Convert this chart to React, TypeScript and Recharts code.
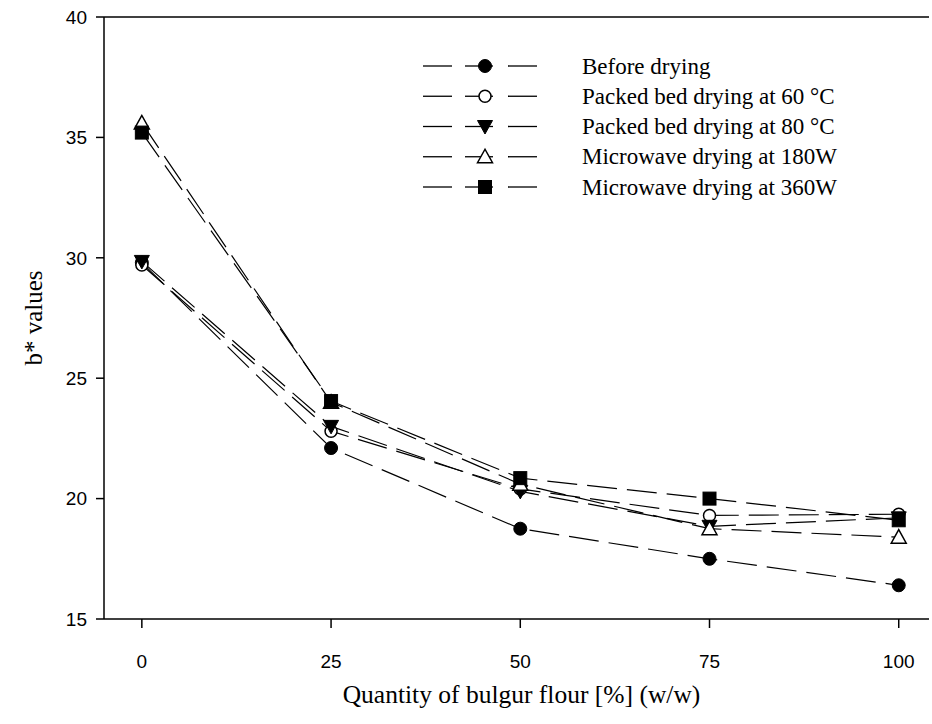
import React from 'react';
import { LineChart, Line, XAxis, YAxis, ReferenceLine, Label } from 'recharts';

const xValues = [0, 25, 50, 75, 100];
const beforeDrying = [29.8, 22.1, 18.75, 17.5, 16.4];
const packed60 = [29.7, 22.8, 20.4, 19.3, 19.35];
const packed80 = [29.85, 23.0, 20.3, 18.85, 19.2];
const microwave180 = [35.6, 24.0, 20.6, 18.75, 18.4];
const microwave360 = [35.2, 24.05, 20.85, 20.0, 19.1];

const seriesNames = [
  'Before drying',
  'Packed bed drying at 60 °C',
  'Packed bed drying at 80 °C',
  'Microwave drying at 180W',
  'Microwave drying at 360W',
];
const xTicks = [0, 25, 50, 75, 100];
const yTicks = [15, 20, 25, 30, 35, 40];

type Kind = 'circleFilled' | 'circleOpen' | 'triDownFilled' | 'triUpOpen' | 'squareFilled';
const kinds: Kind[] = ['circleFilled', 'circleOpen', 'triDownFilled', 'triUpOpen', 'squareFilled'];
const keys = ['before', 'p60', 'p80', 'mw180', 'mw360'];
const seriesValues = [beforeDrying, packed60, packed80, microwave180, microwave360];

const data = xValues.map((x, i) => {
  const row: any = { x };
  keys.forEach((k, j) => (row[k] = seriesValues[j][i]));
  return row;
});

function Marker({ kind, cx, cy }: { kind: Kind; cx: number; cy: number }) {
  if (cx == null || cy == null) return null;
  switch (kind) {
    case 'circleFilled':
      return <circle cx={cx} cy={cy} r={6.5} fill="#000" stroke="#000" />;
    case 'circleOpen':
      return <circle cx={cx} cy={cy} r={6} fill="#fff" stroke="#000" strokeWidth={1.5} />;
    case 'triDownFilled':
      return (
        <polygon
          points={`${cx - 7.5},${cy - 6} ${cx + 7.5},${cy - 6} ${cx},${cy + 7.5}`}
          fill="#000"
          stroke="#000"
        />
      );
    case 'triUpOpen':
      return (
        <polygon
          points={`${cx},${cy - 7.5} ${cx - 7.5},${cy + 6} ${cx + 7.5},${cy + 6}`}
          fill="#fff"
          stroke="#000"
          strokeWidth={1.5}
        />
      );
    case 'squareFilled':
      return <rect x={cx - 6.5} y={cy - 6.5} width={13} height={13} fill="#000" stroke="#000" />;
  }
  return null;
}

const serif = '"Liberation Serif", "Times New Roman", serif';
const sans = '"Liberation Sans", Arial, sans-serif';

function LegendOverlay() {
  return (
    <svg
      width={480}
      height={170}
      style={{ position: 'absolute', left: 415, top: 45, pointerEvents: 'none' }}
    >
      {seriesNames.map((name, i) => {
        const y = 21 + i * 30.25;
        return (
          <g key={name}>
            <line x1={8} x2={37} y1={y} y2={y} stroke="#000" strokeWidth={1.3} />
            <line x1={50} x2={78} y1={y} y2={y} stroke="#000" strokeWidth={1.3} />
            <line x1={93} x2={122} y1={y} y2={y} stroke="#000" strokeWidth={1.3} />
            <Marker kind={kinds[i]} cx={70} cy={y} />
            <text x={167} y={y} dominantBaseline="central" fontFamily={serif} fontSize={23} fill="#000">
              {name}
            </text>
          </g>
        );
      })}
    </svg>
  );
}

export default function App() {
  return (
    <div style={{ position: 'absolute', left: 0, top: 0, width: 932, height: 724, background: '#fff' }}>
      <LineChart width={932} height={724} data={data} margin={{ top: 17, right: 3, left: 0, bottom: 0 }}>
        <XAxis
          dataKey="x"
          type="number"
          domain={[-5, 104]}
          ticks={xTicks}
          allowDataOverflow
          height={105}
          tickSize={9}
          tickMargin={27}
          axisLine={{ stroke: '#000', strokeWidth: 1.5 }}
          tickLine={{ stroke: '#000', strokeWidth: 1.5 }}
          tick={{ fill: '#000', fontSize: 19, fontFamily: sans }}
        >
          <Label
            content={(props: any) => {
              const vb = props.viewBox || {};
              return (
                <text
                  x={vb.x + vb.width / 2 + 5}
                  y={vb.y + 75}
                  textAnchor="middle"
                  dominantBaseline="central"
                  fontFamily={serif}
                  fontSize={25.5}
                  fill="#000"
                >
                  Quantity of bulgur flour [%] (w/w)
                </text>
              );
            }}
          />
        </XAxis>
        <YAxis
          type="number"
          domain={[15, 40]}
          ticks={yTicks}
          allowDataOverflow
          width={104}
          tickSize={8}
          tickMargin={9}
          axisLine={{ stroke: '#000', strokeWidth: 1.5 }}
          tickLine={{ stroke: '#000', strokeWidth: 1.5 }}
          tick={{ fill: '#000', fontSize: 19, fontFamily: sans }}
        >
          <Label
            content={(props: any) => {
              const vb = props.viewBox || {};
              const cx = 33;
              const cy = vb.y + vb.height / 2;
              return (
                <text
                  x={cx}
                  y={cy}
                  transform={`rotate(-90, ${cx}, ${cy})`}
                  textAnchor="middle"
                  dominantBaseline="central"
                  fontFamily={serif}
                  fontSize={25}
                  fill="#000"
                >
                  b* values
                </text>
              );
            }}
          />
        </YAxis>
        <ReferenceLine y={40} stroke="#000" strokeWidth={1.5} />
        {keys.map((k, i) => (
          <Line
            key={k}
            dataKey={k}
            name={seriesNames[i]}
            type="linear"
            stroke="#000"
            strokeWidth={1.2}
            strokeDasharray="30 10"
            isAnimationActive={false}
            dot={(p: any) => <Marker key={`${k}-${p.index}`} kind={kinds[i]} cx={p.cx} cy={p.cy} />}
            activeDot={false}
          />
        ))}
      </LineChart>
      <LegendOverlay />
    </div>
  );
}
